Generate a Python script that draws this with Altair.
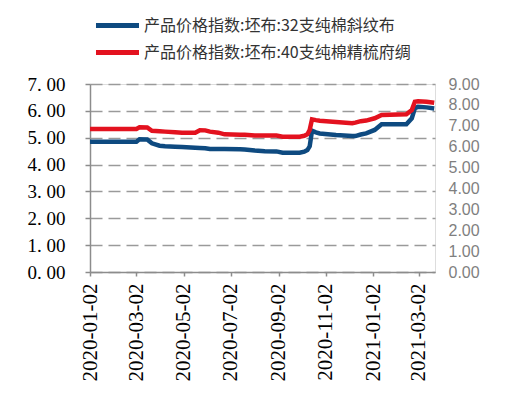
import altair as alt
import pandas as pd

dates = [
    "2020-01-02", "2020-03-02", "2020-03-06", "2020-03-16", "2020-03-22",
    "2020-04-01", "2020-04-08", "2020-04-21", "2020-04-30", "2020-05-17",
    "2020-05-23", "2020-05-30", "2020-06-05", "2020-06-16", "2020-06-24",
    "2020-07-14", "2020-07-20", "2020-08-02", "2020-08-15", "2020-08-30",
    "2020-09-07", "2020-09-29", "2020-10-05", "2020-10-09", "2020-10-12",
    "2020-10-15", "2020-10-20", "2020-10-25", "2020-11-15", "2020-12-06",
    "2020-12-10", "2020-12-17", "2020-12-24", "2021-01-04", "2021-01-13",
    "2021-02-14", "2021-02-21", "2021-02-25", "2021-03-01", "2021-03-12",
    "2021-03-22",
]
blue_vals = [
    4.85, 4.85, 4.94, 4.93, 4.79, 4.70, 4.68, 4.66, 4.65, 4.63,
    4.62, 4.61, 4.58, 4.58, 4.58, 4.57, 4.56, 4.52, 4.50, 4.49,
    4.44, 4.44, 4.48, 4.54, 4.68, 5.26, 5.20, 5.16, 5.10, 5.06,
    5.06, 5.12, 5.16, 5.29, 5.50, 5.50, 5.72, 6.10, 6.15, 6.13,
    6.09,
]
red_vals = [
    6.85, 6.85, 6.93, 6.92, 6.76, 6.74, 6.72, 6.69, 6.67, 6.67,
    6.79, 6.78, 6.72, 6.67, 6.59, 6.57, 6.57, 6.54, 6.53, 6.53,
    6.48, 6.48, 6.52, 6.59, 6.80, 7.31, 7.27, 7.24, 7.18, 7.12,
    7.15, 7.22, 7.25, 7.36, 7.52, 7.55, 7.75, 8.15, 8.17, 8.15,
    8.10,
]
series_names = ["产品价格指数:坯布:32支纯棉斜纹布", "产品价格指数:坯布:40支纯棉精梳府绸"]
series_colors = ["#0E4A80", "#E3121F"]
tick_dates = [(2020, 1), (2020, 3), (2020, 5), (2020, 7), (2020, 9), (2020, 11), (2021, 1), (2021, 3)]
left_ticks = [0, 1, 2, 3, 4, 5, 6, 7]
right_ticks = [0, 1, 2, 3, 4, 5, 6, 7, 8, 9]

df_blue = pd.DataFrame({"date": dates, "value": blue_vals, "series": series_names[0]})
df_red = pd.DataFrame({"date": dates, "value": red_vals, "series": series_names[1]})

x_enc = alt.X(
    "date:T",
    scale=alt.Scale(
        type="utc",
        domain=[alt.DateTime(year=2020, month=1, date=2, utc=True),
                alt.DateTime(year=2021, month=3, date=23, utc=True)],
    ),
    axis=alt.Axis(
        title=None,
        values=[alt.DateTime(year=y, month=m, date=2, utc=True) for y, m in tick_dates],
        labelExpr="utcFormat(datum.value, '%Y-%m-%d')",
        labelAngle=270,
        labelFont="Liberation Serif",
        labelFontSize=21,
        labelColor="#000000",
        labelPadding=7,
        domainColor="#8c8c8c",
        domainWidth=1.5,
        tickColor="#8c8c8c",
        tickSize=4,
        tickWidth=1.5,
        grid=False,
    ),
)


def legend_for(y_off):
    return alt.Legend(
        title=None,
        orient="none",
        legendX=3,
        legendY=y_off,
        direction="vertical",
        symbolType="stroke",
        symbolStrokeWidth=5,
        symbolSize=1850,
        labelOffset=2,
        labelFont="Noto Sans CJK SC",
        labelFontSize=16,
        labelColor="#333333",
        labelLimit=400,
    )


left = alt.Chart(df_blue).mark_line(strokeWidth=4.5).encode(
    x=x_enc,
    y=alt.Y(
        "value:Q",
        scale=alt.Scale(domain=[0, 7], nice=False),
        axis=alt.Axis(
            title=None,
            values=left_ticks,
            labelExpr="replace(format(datum.value, '.2f'), '.', '. ')",
            labelFont="Liberation Serif",
            labelFontSize=19,
            labelColor="#000000",
            labelPadding=20,
            domainColor="#8c8c8c",
            domainWidth=1.5,
            tickColor="#8c8c8c",
            tickSize=5,
            tickWidth=1.5,
            grid=True,
            gridColor="#9a9a9a",
            gridDash=[12, 6],
            gridWidth=1.5,
        ),
    ),
    color=alt.Color(
        "series:N",
        scale=alt.Scale(domain=[series_names[0]], range=[series_colors[0]]),
        legend=legend_for(-83),
    ),
)

right = alt.Chart(df_red).mark_line(strokeWidth=4.5).encode(
    x=x_enc,
    y=alt.Y(
        "value:Q",
        scale=alt.Scale(domain=[0, 9], nice=False),
        axis=alt.Axis(
            title=None,
            orient="right",
            values=right_ticks,
            format=".2f",
            labelFont="Liberation Sans",
            labelFontSize=16,
            labelColor="#7f7f7f",
            labelPadding=13,
            domain=False,
            ticks=False,
            grid=False,
        ),
    ),
    color=alt.Color(
        "series:N",
        scale=alt.Scale(domain=[series_names[1]], range=[series_colors[1]]),
        legend=legend_for(-56),
    ),
)

chart = (
    alt.layer(left, right)
    .resolve_scale(y="independent", color="independent")
    .resolve_legend(color="independent")
    .properties(
        width=345,
        height=188,
        autosize=alt.AutoSizeParams(type="none"),
        padding={"left": 82, "top": 76, "right": 66, "bottom": 115},
    )
    .configure_view(stroke=None)
    .configure(background="white")
)

chart.save("out.html", embed_options={"renderer": "svg", "actions": False})
